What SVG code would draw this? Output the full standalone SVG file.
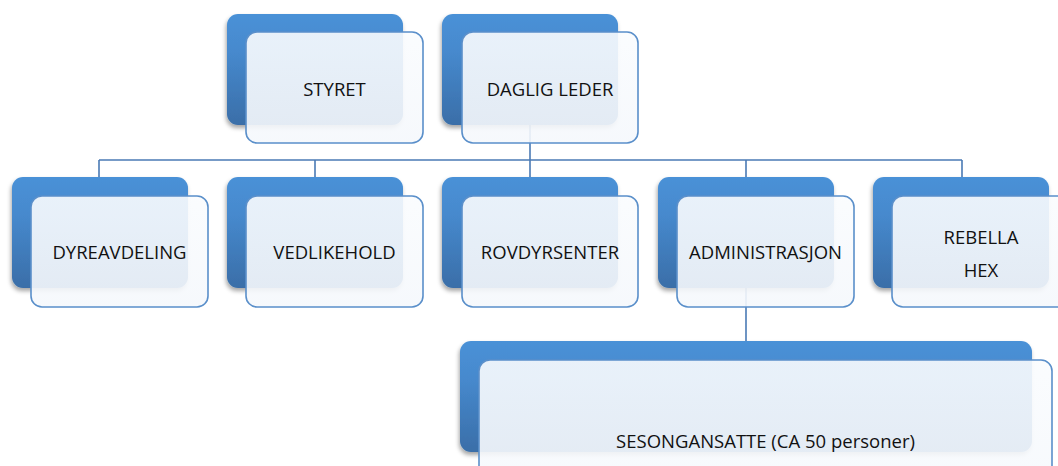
<svg xmlns="http://www.w3.org/2000/svg" width="1058" height="466" viewBox="0 0 1058 466">
  <defs>
    <linearGradient id="gBack" x1="0" y1="0" x2="0" y2="1">
      <stop offset="0" stop-color="#4a91d7"/>
      <stop offset="0.35" stop-color="#4689cd"/>
      <stop offset="1" stop-color="#3a6ea8"/>
    </linearGradient>
    <linearGradient id="gFront" x1="0" y1="0" x2="0" y2="1">
      <stop offset="0" stop-color="#fafcfe"/>
      <stop offset="1" stop-color="#f5f8fc"/>
    </linearGradient>
    <filter id="shadow" x="-10%" y="-10%" width="125%" height="130%">
      <feDropShadow dx="-1" dy="3" stdDeviation="2.2" flood-color="#000" flood-opacity="0.35"/>
    </filter>
    <style>
      .back { fill: url(#gBack); filter: url(#shadow); }
      .front { fill: url(#gFront); fill-opacity: 0.9; stroke: #5a8fca; stroke-width: 1.6; }
      .conn { fill: none; stroke: #4a7ab5; stroke-width: 1.6; }
      .label { font-family: "Open Sans", "Noto Sans", "Liberation Sans", sans-serif; font-size: 18.5px; fill: #111; text-anchor: middle; }
    </style>
  </defs>

  <rect width="1058" height="466" fill="#ffffff"/>

  <!-- connectors -->
  <g id="connectors">
    <path class="conn" d="M530 125 V160"/>
    <path class="conn" d="M99 160 H962"/>
    <path class="conn" d="M99 160 V177 M315 160 V177 M530 160 V177 M746 160 V177 M962 160 V177"/>
    <path class="conn" d="M746 288 V341"/>
  </g>

  <g id="styret">
    <rect class="back" x="227" y="14" width="176" height="111" rx="11"/>
    <rect class="front" x="246" y="32" width="177" height="111" rx="11"/>
    <text class="label" x="334.5" y="96">STYRET</text>
  </g>

  <g id="daglig-leder">
    <rect class="back" x="442" y="14" width="176" height="111" rx="11"/>
    <rect class="front" x="462" y="32" width="176" height="111" rx="11"/>
    <text class="label" x="550" y="96">DAGLIG LEDER</text>
  </g>

  <g id="dyreavdeling">
    <rect class="back" x="12" y="177" width="176" height="111" rx="11"/>
    <rect class="front" x="31" y="196" width="177" height="111" rx="11"/>
    <text class="label" x="119.5" y="259">DYREAVDELING</text>
  </g>

  <g id="vedlikehold">
    <rect class="back" x="227" y="177" width="176" height="111" rx="11"/>
    <rect class="front" x="246" y="196" width="177" height="111" rx="11"/>
    <text class="label" x="334.5" y="259">VEDLIKEHOLD</text>
  </g>

  <g id="rovdyrsenter">
    <rect class="back" x="442" y="177" width="176" height="111" rx="11"/>
    <rect class="front" x="462" y="196" width="176" height="111" rx="11"/>
    <text class="label" x="550" y="259">ROVDYRSENTER</text>
  </g>

  <g id="administrasjon">
    <rect class="back" x="658" y="177" width="176" height="111" rx="11"/>
    <rect class="front" x="677" y="196" width="177" height="111" rx="11"/>
    <text class="label" x="765.5" y="259">ADMINISTRASJON</text>
  </g>

  <g id="rebella-hex">
    <rect class="back" x="873" y="177" width="176" height="111" rx="11"/>
    <rect class="front" x="892" y="196" width="177" height="111" rx="11"/>
    <text class="label" x="981" y="243.5">REBELLA</text>
    <text class="label" x="981" y="276.5">HEX</text>
  </g>

  <g id="sesongansatte">
    <rect class="back" x="460" y="341" width="572" height="111" rx="11"/>
    <rect class="front" x="479" y="360" width="573" height="150" rx="11"/>
    <text class="label" x="765.5" y="448">SESONGANSATTE (CA 50 personer)</text>
  </g>
</svg>
